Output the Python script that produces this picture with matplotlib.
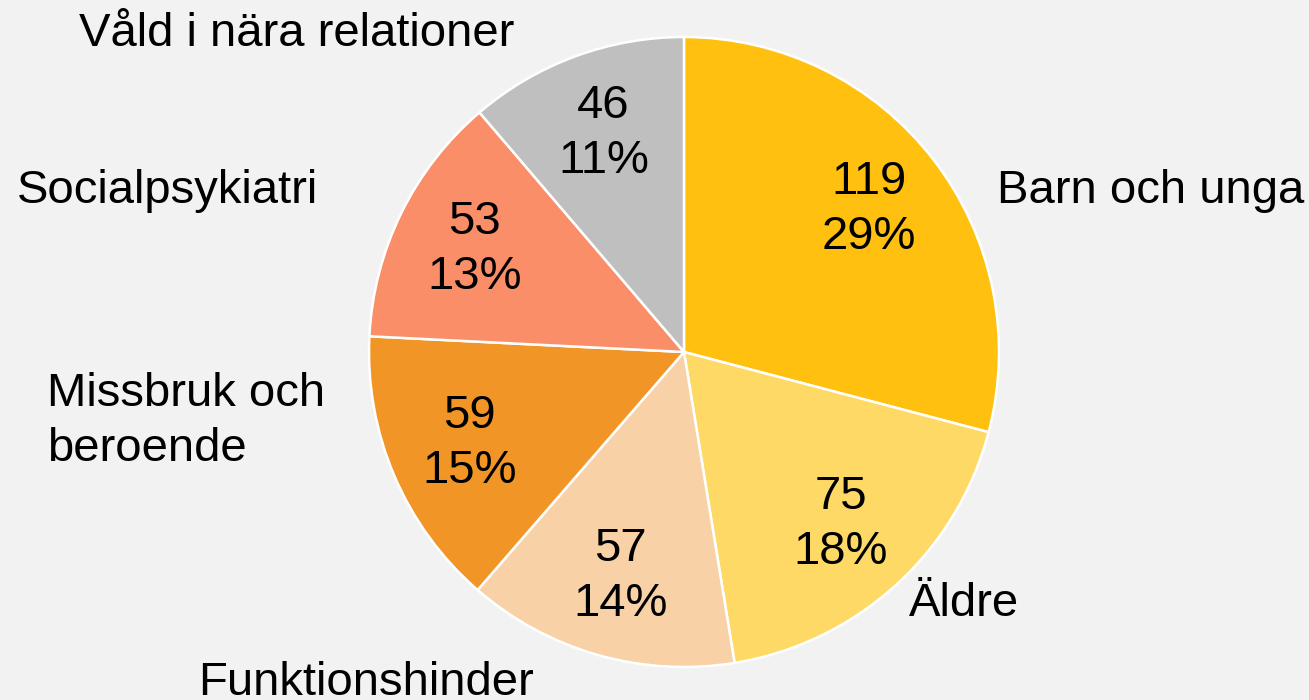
import matplotlib.pyplot as plt

plt.rcParams['font.family'] = ['Liberation Sans', 'DejaVu Sans']

# Data
categories = ["Barn och unga", "Äldre", "Funktionshinder", "Missbruk och\nberoende",
              "Socialpsykiatri", "Våld i nära relationer"]
values = [119, 75, 57, 59, 53, 46]
percents = [29, 18, 14, 15, 13, 11]   # as printed in the original
colors = ["#FFC010", "#FFD966", "#F9D1A6", "#F29527", "#F98E68", "#BFBFBF"]

# label positions (in pie radius units), as placed in the original
label_pos = [(1.48, 0.51), (0.89, -0.80), (-1.01, -1.05), (-1.58, -0.22),
             (-1.64, 0.51), (-1.23, 1.01)]

fig = plt.figure(figsize=(13.09, 7.0), dpi=100)
fig.patch.set_facecolor("#F2F2F2")
ax = fig.add_axes([0, 0, 1, 1])
ax.set_facecolor("#F2F2F2")

wedges, texts, autotexts = ax.pie(
    values, colors=colors, startangle=90, counterclock=False,
    autopct="%1.0f", pctdistance=0.74, labels=categories, labeldistance=1.2,
    wedgeprops=dict(edgecolor="white", linewidth=1.8),
    textprops=dict(fontsize=34, color="black"))

for t, v, p in zip(autotexts, values, percents):
    t.set_text("%d\n%d%%" % (v, p))
    t.set_linespacing(1.32)

for t, (x, y) in zip(texts, label_pos):
    t.set_position((x, y))
    t.set_ha("center")
    t.set_va("center")
    t.set_multialignment("left")
    t.set_linespacing(1.32)

ax.set_aspect("auto")
ax.set_xlim(-684 / 315, (1309 - 684) / 315)
ax.set_ylim(-(700 - 352) / 315, 352 / 315)
ax.axis("off")

fig.savefig("out.png", dpi=100, facecolor=fig.get_facecolor())
